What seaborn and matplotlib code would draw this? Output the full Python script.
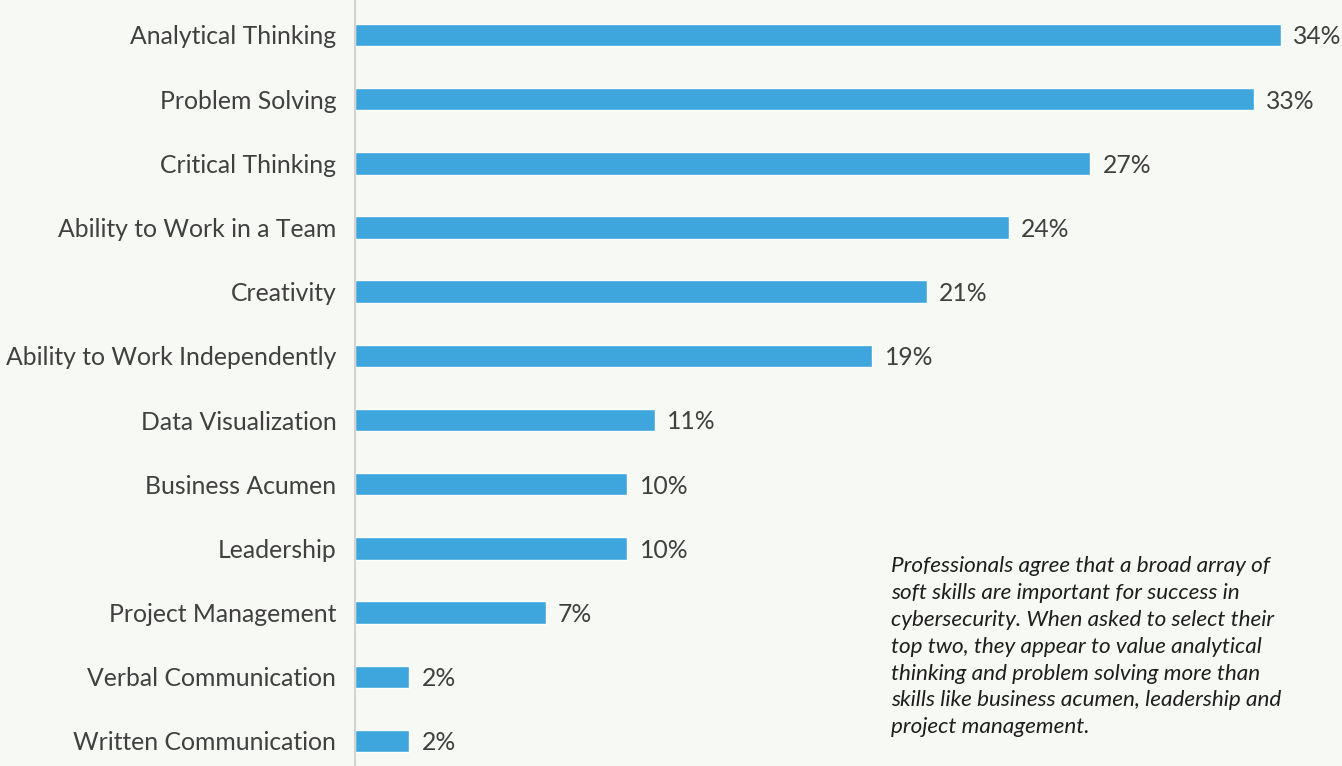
import matplotlib
matplotlib.use("Agg")
import matplotlib.pyplot as plt
import seaborn as sns
import pandas as pd

skills = [
    "Analytical Thinking",
    "Problem Solving",
    "Critical Thinking",
    "Ability to Work in a Team",
    "Creativity",
    "Ability to Work Independently",
    "Data Visualization",
    "Business Acumen",
    "Leadership",
    "Project Management",
    "Verbal Communication",
    "Written Communication",
]
shares = [34, 33, 27, 24, 21, 19, 11, 10, 10, 7, 2, 2]

note = ("Professionals agree that a broad array of\n"
        "soft skills are important for success in\n"
        "cybersecurity. When asked to select their\n"
        "top two, they appear to value analytical\n"
        "thinking and problem solving more than\n"
        "skills like business acumen, leadership and\n"
        "project management.")

bg = "#f7f9f4"
bar_color = "#3fa5dd"

sns.set_theme(style="white")
plt.rcParams["font.family"] = ["Lato", "DejaVu Sans"]

df = pd.DataFrame({"skill": skills, "share": shares})

fig = plt.figure(figsize=(13.42, 7.66), dpi=100, facecolor=bg)
ax = fig.add_axes([355 / 1342, 0, 1 - 355 / 1342, 1])
ax.set_facecolor(bg)

sns.barplot(data=df, x="share", y="skill", orient="h", color=bar_color,
            width=0.35, saturation=1, ax=ax)

ax.set_xlim(0, (1342 - 355) / 27.23)
ax.set_ylim(11.39, -0.545)

for i, v in enumerate(shares):
    ax.text(v + 0.45, i + 0.03, f"{v}%", va="center", ha="left",
            fontsize=17.8, color="#404040")

ax.set_xlabel("")
ax.set_ylabel("")
ax.set_xticks([])
ax.tick_params(axis="y", length=0, pad=13.5, labelsize=17.8, labelcolor="#404040")
for s in ["top", "right", "bottom"]:
    ax.spines[s].set_visible(False)
ax.spines["left"].set_color("#d3d3d3")
ax.spines["left"].set_linewidth(1.5)

fig.text(891 / 1342, 1 - 556 / 766, note, ha="left", va="top",
         fontsize=16.2, style="italic", color="#1e1e1e", linespacing=1.43)

fig.savefig("out.png", dpi=100, facecolor=bg)
